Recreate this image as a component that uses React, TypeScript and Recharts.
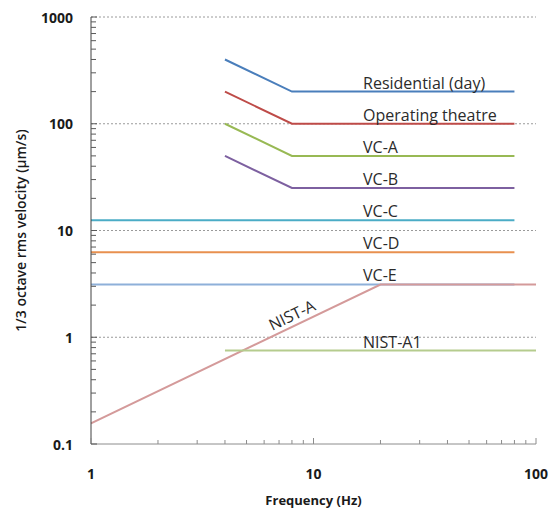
import { LineChart, Line, XAxis, YAxis, ReferenceLine, ReferenceDot, Label } from 'recharts';

// frequency (Hz) and 1/3 octave rms velocity (µm/s)
const slopedFreq = [4, 8, 80];
const residential = [400, 200, 200];
const operatingTheatre = [200, 100, 100];
const vcA = [100, 50, 50];
const vcB = [50, 25, 25];

const flatFreq = [1, 80];
const vcC = [12.5, 12.5];
const vcD = [6.25, 6.25];
const vcE = [3.12, 3.12];

const nistAFreq = [1, 20, 100];
const nistA = [0.156, 3.12, 3.12];

const nistA1Freq = [4, 100];
const nistA1 = [0.75, 0.75];

const xMajor = [1, 10, 100];
const yMajor = [0.1, 1, 10, 100, 1000];
const minorSteps = [2, 3, 4, 5, 6, 7, 8, 9];
const gridValues = [1, 10, 100, 1000];

// label anchors: left edge frequency and the line value they sit on
const labelFreq = 16.7;
const seriesLabels = [
  { text: 'Residential (day)', value: 200 },
  { text: 'Operating theatre', value: 100 },
  { text: 'VC-A', value: 50 },
  { text: 'VC-B', value: 25 },
  { text: 'VC-C', value: 12.5 },
  { text: 'VC-D', value: 6.25 },
  { text: 'VC-E', value: 3.12 },
  { text: 'NIST-A1', value: 0.75 },
];
const nistALabel = { text: 'NIST-A', freq: 8.4, value: 1.31 };

const zip = (fs: number[], vs: number[]) => fs.map((f, i) => ({ f, v: vs[i] }));
const withMinors = (majors: number[]) =>
  [...majors, ...majors.slice(0, -1).flatMap((m) => minorSteps.map((s) => m * s))].sort((a, b) => a - b);

const xTicks = withMinors(xMajor);
const yTicks = withMinors(yMajor);

const series = [
  { name: 'Residential (day)', data: zip(slopedFreq, residential), color: '#4a7ebb' },
  { name: 'Operating theatre', data: zip(slopedFreq, operatingTheatre), color: '#be4b48' },
  { name: 'VC-A', data: zip(slopedFreq, vcA), color: '#98b954' },
  { name: 'VC-B', data: zip(slopedFreq, vcB), color: '#7d60a0' },
  { name: 'VC-C', data: zip(flatFreq, vcC), color: '#4bacc6' },
  { name: 'VC-D', data: zip(flatFreq, vcD), color: '#e8904f' },
  { name: 'VC-E', data: zip(flatFreq, vcE), color: '#8eb0d9' },
  { name: 'NIST-A', data: zip(nistAFreq, nistA), color: '#d49a9a' },
  { name: 'NIST-A1', data: zip(nistA1Freq, nistA1), color: '#b5cc8e' },
];

const font = '"Open Sans", sans-serif';

const XTick = (props: any) => {
  const { x, y, payload } = props;
  const major = xMajor.includes(payload.value);
  return (
    <g>
      <line x1={x} x2={x} y1={y} y2={y - (major ? 6 : 4)} stroke="#8c8c8c" />
      {major && (
        <text x={x} y={y + 29} textAnchor="middle" dominantBaseline="central"
          fontFamily={font} fontWeight="bold" fontSize={14} fill="#1a1a1a">
          {payload.value}
        </text>
      )}
    </g>
  );
};

const YTick = (props: any) => {
  const { x, y, payload } = props;
  const major = yMajor.includes(payload.value);
  return (
    <g>
      <line x1={x} x2={x + (major ? 6 : 5)} y1={y} y2={y} stroke="#595959" />
      {major && (
        <text x={x - 18} y={y} textAnchor="end" dominantBaseline="central"
          fontFamily={font} fontWeight="bold" fontSize={14} fill="#1a1a1a">
          {payload.value}
        </text>
      )}
    </g>
  );
};

export default function App() {
  return (
    <div style={{ position: 'absolute', left: 0, top: 0, background: '#fff' }}>
      <LineChart width={550} height={510} margin={{ top: 17, right: 14, left: 0, bottom: 0 }}>
        <XAxis
          dataKey="f"
          type="number"
          scale="log"
          domain={[1, 100]}
          allowDataOverflow
          ticks={xTicks}
          interval={0}
          tickSize={0}
          tickMargin={0}
          tick={<XTick />}
          height={66}
          stroke="#8c8c8c"
        >
          <Label
            content={(p: any) => (
              <text x={p.viewBox.x + p.viewBox.width / 2} y={p.viewBox.y + 56} textAnchor="middle"
                dominantBaseline="central" fontFamily={font} fontWeight="bold" fontSize={13} fill="#1a1a1a">
                Frequency (Hz)
              </text>
            )}
          />
        </XAxis>
        <YAxis
          type="number"
          scale="log"
          domain={[0.1, 1000]}
          allowDataOverflow
          ticks={yTicks}
          interval={0}
          tickSize={0}
          tickMargin={0}
          tick={<YTick />}
          width={91}
          stroke="#404040"
        >
          <Label
            content={(p: any) => {
              const cx = p.viewBox.x + 20;
              const cy = p.viewBox.y + p.viewBox.height / 2;
              return (
                <text x={cx} y={cy} transform={`rotate(-90 ${cx} ${cy})`} textAnchor="middle"
                  dominantBaseline="central" fontFamily={font} fontWeight={600} fontSize={14} fill="#1a1a1a">
                  1/3 octave rms velocity (µm/s)
                </text>
              );
            }}
          />
        </YAxis>
        {gridValues.map((g) => (
          <ReferenceLine key={g} y={g} stroke="#9a9a9a" strokeDasharray="2 2" strokeWidth={1} />
        ))}
        {series.map((s) => (
          <Line
            key={s.name}
            data={s.data}
            dataKey="v"
            name={s.name}
            stroke={s.color}
            strokeWidth={2}
            dot={false}
            activeDot={false}
            isAnimationActive={false}
          />
        ))}
        {seriesLabels.map((l) => (
          <ReferenceDot
            key={l.text}
            x={labelFreq}
            y={l.value}
            r={0}
            fill="none"
            stroke="none"
            label={(p: any) => (
              <text x={p.viewBox.x} y={p.viewBox.y - 3} fontFamily={font} fontSize={16} fill="#2b2b2b">
                {l.text}
              </text>
            )}
          />
        ))}
        <ReferenceDot
          x={nistALabel.freq}
          y={nistALabel.value}
          r={0}
          fill="none"
          stroke="none"
          label={(p: any) => (
            <text x={p.viewBox.x} y={p.viewBox.y - 5} transform={`rotate(-25.6 ${p.viewBox.x} ${p.viewBox.y})`}
              textAnchor="middle" fontFamily={font} fontSize={16} fill="#2b2b2b">
              {nistALabel.text}
            </text>
          )}
        />
      </LineChart>
    </div>
  );
}
